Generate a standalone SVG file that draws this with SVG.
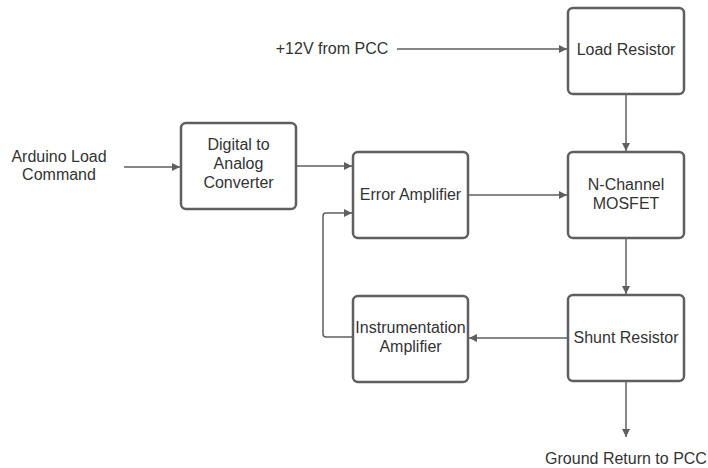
<svg xmlns="http://www.w3.org/2000/svg" width="708" height="468" viewBox="0 0 708 468">
  <style>
    .box { fill: #ffffff; stroke: #5f5f5f; stroke-width: 2.5; }
    .lbl { font-family: "Liberation Sans", Arial, sans-serif; font-size: 16px; fill: #333333; text-anchor: middle; }
    .wire { fill: none; stroke: #5f5f5f; stroke-width: 1.5; marker-end: url(#arrow); }
  </style>
  <defs>
    <marker id="arrow" viewBox="0 0 10 10" refX="10" refY="5" markerWidth="10" markerHeight="8" markerUnits="userSpaceOnUse" orient="auto">
      <path d="M0,0 L10,5 L0,10 Z" fill="#5f5f5f"/>
    </marker>
  </defs>
  <rect width="708" height="468" fill="#ffffff"/>

  <g id="connectors">
    <path class="wire" d="M397,49 H567"/>
    <path class="wire" d="M626,95 V151"/>
    <path class="wire" d="M124,167 H180"/>
    <path class="wire" d="M297,166 H352"/>
    <path class="wire" d="M469,195 H567"/>
    <path class="wire" d="M626,239 V294"/>
    <path class="wire" d="M567,338 H469"/>
    <path class="wire" d="M352,337 H326 Q323,337 323,334 V216 Q323,213 326,213 H352"/>
    <path class="wire" d="M626,382 V437"/>
  </g>

  <g id="supply-label">
    <text class="lbl" x="332" y="54">+12V from PCC</text>
  </g>
  <g id="arduino-label">
    <text class="lbl" x="59" y="162">Arduino Load</text>
    <text class="lbl" x="59" y="180">Command</text>
  </g>
  <g id="ground-label">
    <text class="lbl" x="626" y="464">Ground Return to PCC</text>
  </g>

  <g id="load-resistor">
    <rect class="box" x="568" y="8" width="116" height="86" rx="5"/>
    <text class="lbl" x="626" y="55">Load Resistor</text>
  </g>
  <g id="dac">
    <rect class="box" x="181" y="123" width="115" height="86" rx="5"/>
    <text class="lbl" x="238.5" y="150">Digital to</text>
    <text class="lbl" x="238.5" y="169">Analog</text>
    <text class="lbl" x="238.5" y="188">Converter</text>
  </g>
  <g id="error-amplifier">
    <rect class="box" x="353" y="152" width="115" height="86" rx="5"/>
    <text class="lbl" x="410.5" y="200">Error Amplifier</text>
  </g>
  <g id="mosfet">
    <rect class="box" x="568" y="152" width="116" height="86" rx="5"/>
    <text class="lbl" x="626" y="190">N-Channel</text>
    <text class="lbl" x="626" y="209">MOSFET</text>
  </g>
  <g id="shunt-resistor">
    <rect class="box" x="568" y="295" width="116" height="86" rx="5"/>
    <text class="lbl" x="626" y="343">Shunt Resistor</text>
  </g>
  <g id="instrumentation-amplifier">
    <rect class="box" x="353" y="296" width="115" height="86" rx="5"/>
    <text class="lbl" x="410.5" y="333">Instrumentation</text>
    <text class="lbl" x="410.5" y="352">Amplifier</text>
  </g>
</svg>
